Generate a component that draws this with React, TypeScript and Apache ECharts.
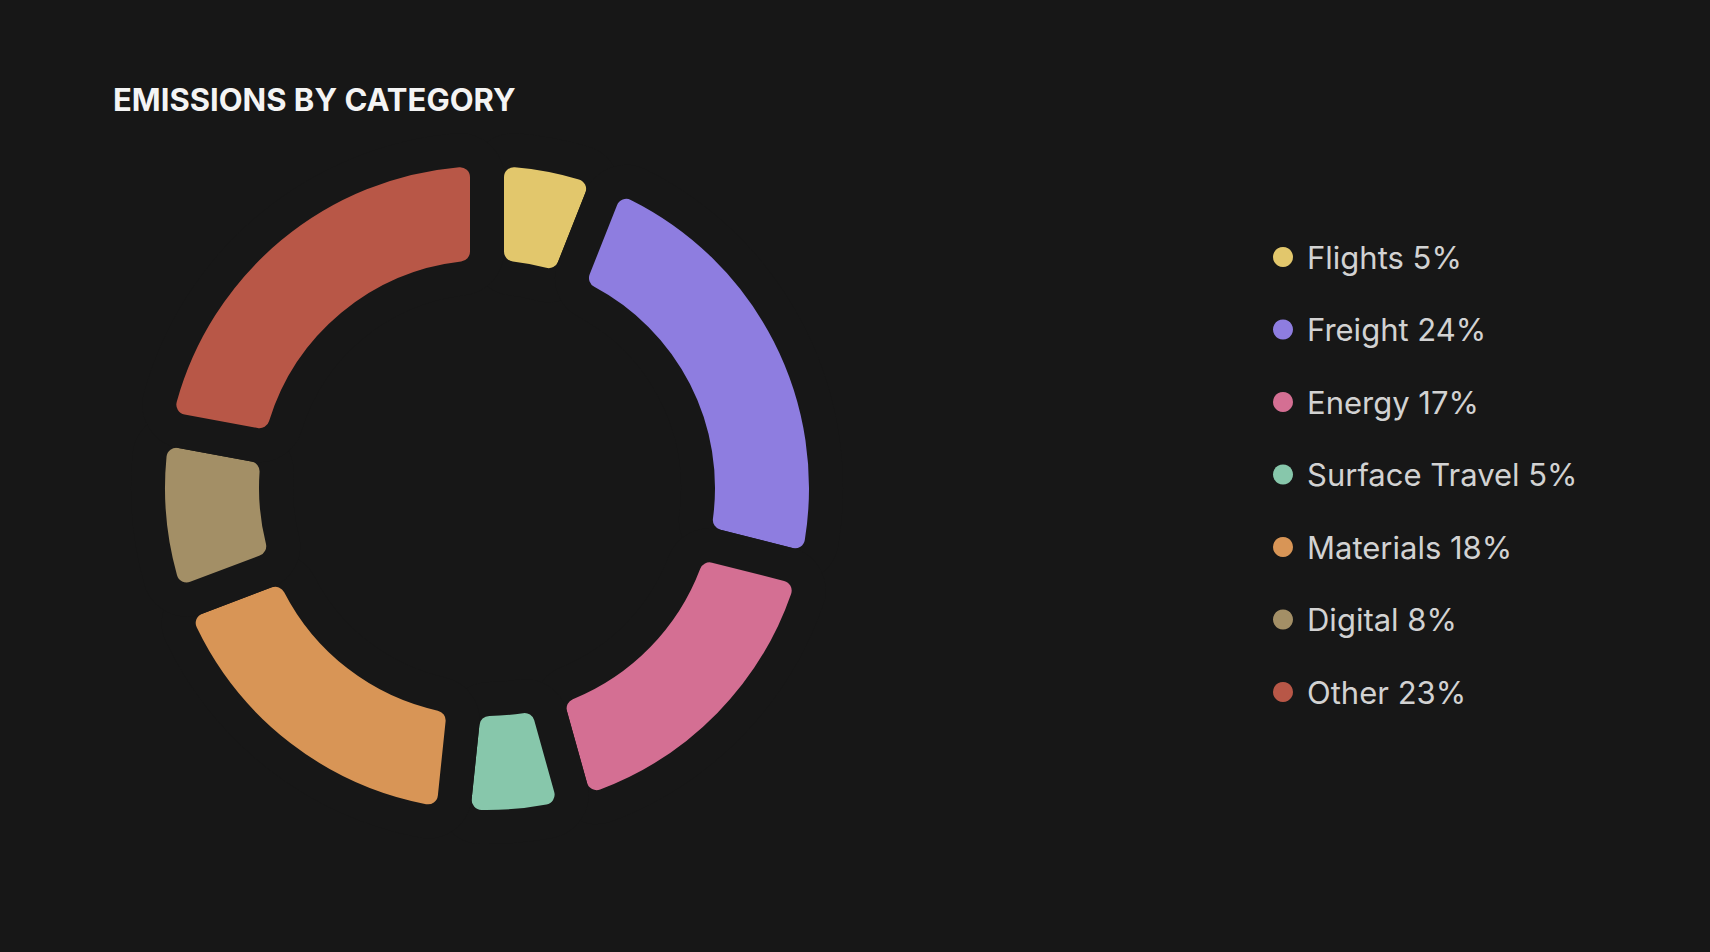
import React, { useEffect, useRef } from "react";
import * as echarts from "echarts";

const categories = ["Flights", "Freight", "Energy", "Surface Travel", "Materials", "Digital", "Other"];
const shares = [5, 24, 17, 5, 18, 8, 23];
const colors = ["#E2C76C", "#8E7DE0", "#D46F93", "#87C7AB", "#D89556", "#A38F66", "#B85747"];
const titleText = "EMISSIONS BY CATEGORY";
const bg = "#171717";
// Pad-angle share (d3.pie style): every slice gets the same extra angle for its gap,
// so the layout value of a slice is its share plus this constant.
const PAD_SHARE = 1.7;

export default function App() {
  const ref = useRef<HTMLDivElement>(null);
  useEffect(() => {
    document.body.style.margin = "0";
    document.body.style.background = bg;
    const chart = echarts.init(ref.current!, null, { renderer: "svg" });
    const data = categories.map((name, i) => ({
      name,
      value: shares[i] + PAD_SHARE,
      itemStyle: { color: colors[i] },
    }));
    chart.setOption({
      animation: false,
      backgroundColor: bg,
      title: {
        text: titleText,
        left: 108,
        top: 78,
        textStyle: {
          color: "#F4F4F4",
          fontSize: 31,
          lineHeight: 32,
          fontWeight: "bold",
          fontFamily: "Inter",
        },
      },
      legend: {
        orient: "vertical",
        left: 1268,
        top: 236,
        icon: "circle",
        itemWidth: 38,
        itemHeight: 20,
        itemGap: 40.5,
        data: categories,
        itemStyle: { borderWidth: 0 },
        formatter: (name: string) => `${name} ${shares[categories.indexOf(name)]}%`,
        textStyle: {
          color: "#D2D2D2",
          fontSize: 31,
          lineHeight: 32,
          fontFamily: "Inter",
        },
      },
      series: [
        {
          type: "pie",
          center: [487, 488],
          radius: [211, 339],
          startAngle: 90,
          clockwise: true,
          itemStyle: { borderRadius: 27, borderWidth: 34, borderColor: bg },
          label: { show: false },
          labelLine: { show: false },
          emphasis: { disabled: true },
          data,
        },
      ],
    });
    return () => chart.dispose();
  }, []);
  return <div ref={ref} style={{ width: 1710, height: 952 }} />;
}
